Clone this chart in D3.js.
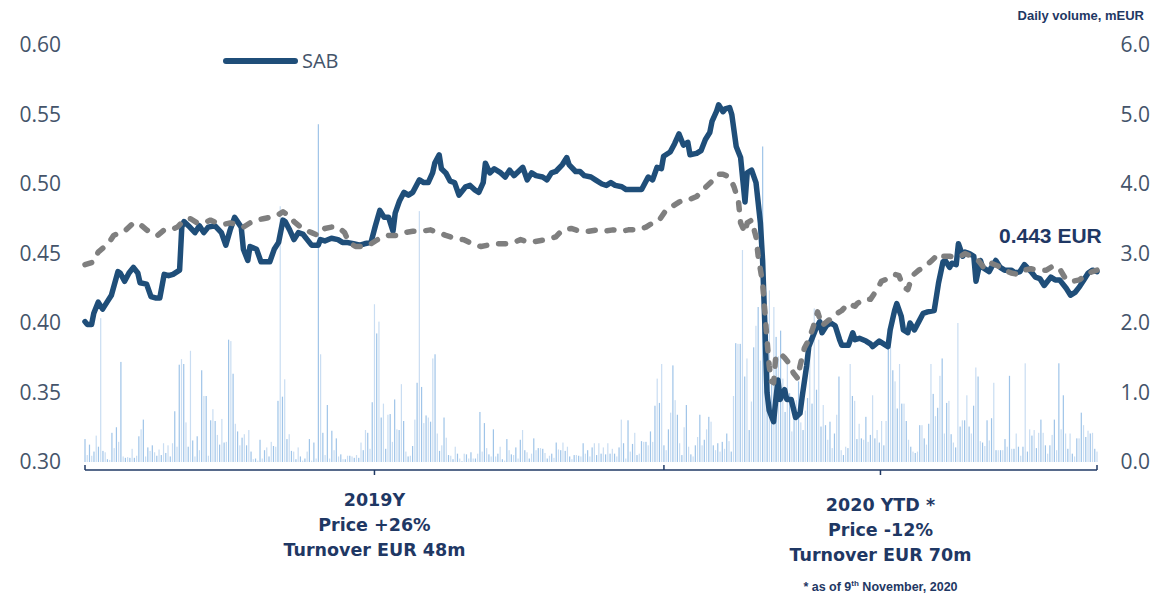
<!DOCTYPE html>
<html>
<head>
<meta charset="utf-8">
<script src="https://cdn.jsdelivr.net/npm/d3@7"></script>
<style>
  body { margin: 0; background: #fff; }
  svg { display: block; }
</style>
</head>
<body>
<div id="chart"></div>
<script>
// Volumen diario (mEUR), una barra por sesion
const vol2019 = [
  0.33,0.10,0.25,0.09,0.15,0.38,0.22,2.07,0.16,0.14,0.04,0.03,0.42,0.20,0.50,0.29,1.44,0.08,0.06,0.07,
  0.06,0.19,0.06,0.09,0.37,0.47,0.61,0.08,0.21,0.16,0.24,0.14,0.09,0.18,0.10,0.27,0.13,0.24,0.08,0.27,
  0.73,0.22,1.40,1.48,1.41,0.57,0.22,1.60,0.31,0.08,0.37,0.17,1.32,0.95,0.95,0.09,0.60,0.76,0.59,0.39,
  0.25,0.62,0.28,0.29,1.76,1.74,1.27,0.55,0.44,0.24,0.35,0.40,0.24,0.46,0.15,0.04,0.05,0.02,0.32,0.05,
  0.17,0.21,0.08,0.29,0.23,0.22,0.88,3.68,0.94,1.19,0.33,0.40,0.16,0.15,0.04,0.21,0.08,0.02,0.05,0.15,
  0.33,0.02,0.28,0.05,4.86,1.55,0.42,0.10,0.82,0.05,0.45,0.17,0.34,0.08,
  0.11,0.04,0.04,0.09,0.09,0.08,0.06,0.10,0.06,0.28,0.17,0.46,0.42,0.19,0.86,2.27,1.85,2.02,0.64,0.84,
  0.19,0.68,0.69,0.29,0.90,0.47,0.46,1.12,0.59,0.15,0.08,0.09,0.23,0.61,1.14,3.61,1.08,0.56,0.67,0.64,
  0.58,1.49,1.55,0.41,0.16,0.24,0.64,0.35,0.10,0.09,0.04,0.22,0.12,0.05,0.01,0.12,0.11,0.05,0.14,0.05,
  0.05,0.12,0.72,0.15,0.56,0.20,0.11,0.08,0.47,0.08,0.12,0.22,0.04,0.02,0.33,0.17,0.11,0.10,0.21,0.05,
  0.32,0.46,0.17,0.14,0.05,0.12,0.34,0.17,0.20,0.20,0.19,0.13,0.05,0.09,0.12,0.06,0.28,0.18,0.17,0.28,
  0.16,0.22,0.08,0.04,0.10,0.10,0.09,0.08,0.27,0.12,0.17,0.08,0.21,0.27,
  0.10,0.27,0.12,0.21,0.11,0.27,0.12,0.19,0.12,0.08,0.21,0.61,0.27,0.05,0.60,0.15,0.26,0.42,0.10,0.12,
  0.30,0.29,0.29,0.24,0.44,0.29,0.81,1.20,0.85,1.41
];
const vol2020 = [
  0.24,0.17,0.47,0.71,1.39,0.89,0.68,0.27,0.10,0.50,0.82,0.22,0.11,0.08,0.24,0.36,0.68,0.24,0.32,0.47,
  0.65,0.58,0.24,0.17,0.27,0.15,0.29,0.19,0.41,0.30,0.15,0.95,1.71,1.70,1.70,3.05,1.23,1.49,0.46,0.87,
  1.65,1.96,2.23,1.46,4.54,1.61,2.00,2.47,1.13,2.23,1.80,1.52,1.89,1.20,0.72,1.42,0.99,0.44,0.84,0.89,
  1.16,0.57,0.46,0.74,0.92,1.64,0.84,2.21,1.04,1.76,0.51,0.82,0.53,0.32,0.58,0.20,0.41,0.68,1.23,0.17,
  0.10,0.22,0.20,1.41,
  0.95,0.88,0.33,0.55,0.34,0.32,0.65,0.29,0.39,0.96,0.34,0.46,0.28,0.59,0.24,0.59,1.92,1.65,1.32,1.16,
  0.77,1.41,0.84,0.84,0.59,0.32,0.22,0.15,0.13,0.15,0.53,0.53,0.34,0.25,0.55,1.41,0.98,0.66,0.78,1.24,
  1.49,0.41,0.85,0.88,0.40,0.28,0.21,2.00,0.51,0.60,0.60,0.96,0.51,0.41,0.81,1.36,1.23,0.30,0.28,0.23,
  0.60,0.31,0.63,1.14,0.17,0.17,0.17,0.17,0.33,0.22,1.24,0.19,0.19,0.41,0.22,0.09,0.22,1.42,0.15,0.47,
  0.38,0.46,0.20,0.42,0.61,0.42,0.24,0.12,0.24,0.39,0.61,0.17,1.42,0.47,0.96,0.41,0.19,0.41,0.12,0.08,
  0.34,0.34,0.71,0.53,0.36,0.45,0.41,0.42,0.19,0.15
];

// Cotizacion SAB [sesion, EUR]
const sabPrice = [
  [0,.401],[1,.399],[3,.399],[4,.407],[6,.415],[8,.410],[10,.415],[12,.420],[15,.437],[16,.436],[18,.430],[20,.436],
  [22,.440],[24,.436],[25,.429],[28,.428],[30,.419],[32,.418],[34,.418],[36,.435],[38,.434],[40,.435],[43,.438],[44,.469],
  [45,.473],[47,.470],[50,.465],[52,.470],[54,.465],[56,.469],[59,.470],[62,.465],[64,.456],[66,.467],[68,.476],[71,.469],
  [72,.453],[74,.445],[75,.455],[78,.453],[80,.444],[82,.444],[84,.444],[86,.453],[88,.458],[90,.474],[91,.473],[93,.467],
  [95,.460],[97,.465],[99,.464],[101,.460],[103,.456],[106,.456],[107,.460],[109,.459],[112,.461],[115,.460],[117,.458],
  [119,.458],[122,.457],[125,.456],[127,.457],[130,.458],[132,.470],[134,.481],[136,.476],[138,.476],[140,.466],[141,.479],
  [143,.488],[145,.494],[147,.492],[149,.494],[152,.503],[154,.501],[156,.501],[158,.508],[159,.515],[161,.521],[162,.511],
  [164,.508],[166,.502],[168,.501],[170,.492],[173,.498],[175,.499],[177,.496],[179,.494],[181,.501],[182,.515],[184,.508],
  [186,.511],[189,.508],[191,.505],[193,.510],[195,.506],[197,.509],[199,.512],[201,.503],[203,.508],[205,.506],[208,.505],
  [210,.503],[212,.508],[214,.509],[217,.514],[219,.519],[220,.514],[223,.509],[225,.509],[227,.506],[230,.505],[232,.503],
  [235,.500],[237,.499],[239,.501],[241,.499],[244,.498],[246,.496],[248,.496],[250,.496],[253,.496],[256,.505],[258,.503],
  [260,.512],[262,.511],[263,.520],[266,.523],[268,.529],[270,.536],[272,.528],[274,.530],[275,.521],[278,.522],[280,.524],
  [282,.532],[284,.537],[285,.545],[287,.552],[288,.557],[290,.552],[291,.554],[293,.555],[294,.550],[296,.527],[298,.519],
  [300,.487],[301,.508],[303,.510],[305,.501],[307,.472],[308,.445],[309,.400],[310,.350],[311,.337],[313,.329],[314,.345],
  [315,.359],[316,.345],[318,.352],[319,.345],[321,.345],[323,.332],[325,.335],[326,.347],[328,.369],[329,.383],[332,.395],
  [334,.401],[335,.393],[337,.398],[339,.400],[341,.398],[343,.388],[344,.384],[347,.384],[349,.393],[350,.388],[352,.389],
  [355,.387],[357,.385],[358,.383],[361,.387],[363,.385],[365,.383],[366,.395],[368,.409],[369,.414],[371,.405],[372,.395],
  [374,.393],[375,.400],[377,.395],[379,.401],[381,.407],[383,.408],[386,.409],[387,.419],[388,.429],[390,.444],[391,.445],
  [393,.440],[394,.443],[396,.442],[397,.457],[399,.448],[400,.451],[402,.450],[404,.448],[405,.430],[407,.445],[408,.440],
  [411,.437],[412,.440],[414,.445],[416,.440],[418,.438],[421,.438],[423,.436],[425,.437],[427,.442],[430,.437],[432,.433],
  [434,.432],[436,.427],[439,.433],[441,.431],[443,.431],[446,.425],[448,.420],[450,.422],[452,.426],[454,.431],[456,.436],
  [458,.438],[460,.437]
];

// Indice de referencia (linea gris discontinua) [sesion, nivel]
const indexPrice = [
  [0,.442],[4,.444],[6,.451],[9,.455],[11,.458],[13,.463],[16,.465],[18,.466],[22,.472],[25,.471],[28,.467],[31,.464],
  [33,.463],[36,.467],[39,.467],[42,.469],[45,.474],[48,.475],[51,.472],[54,.472],[57,.474],[60,.472],[63,.471],[66,.472],
  [69,.471],[72,.469],[75,.472],[78,.474],[81,.475],[84,.476],[87,.477],[90,.480],[93,.477],[95,.473],[98,.469],[100,.467],
  [103,.465],[106,.463],[109,.468],[112,.469],[115,.469],[118,.465],[120,.458],[123,.455],[127,.455],[130,.457],[134,.461],
  [138,.463],[142,.463],[145,.465],[149,.466],[153,.466],[157,.467],[161,.465],[164,.463],[168,.461],[172,.460],[176,.457],
  [180,.455],[183,.456],[187,.457],[191,.457],[195,.458],[198,.460],[202,.458],[206,.459],[210,.460],[214,.462],[217,.467],
  [221,.468],[225,.466],[229,.466],[233,.467],[236,.466],[240,.467],[244,.466],[247,.467],[251,.467],[255,.469],[258,.472],
  [261,.474],[264,.481],[267,.484],[270,.487],[273,.489],[275,.489],[278,.491],[281,.496],[285,.502],[288,.507],[290,.507],
  [293,.505],[295,.498],[297,.488],[298,.472],[300,.465],[301,.472],[303,.474],[305,.462],[306,.448],[308,.429],[309,.409],
  [310,.388],[311,.369],[312,.358],[313,.357],[314,.376],[316,.378],[318,.375],[320,.371],[322,.364],[324,.360],[325,.369],
  [327,.382],[329,.388],[331,.397],[333,.408],[335,.398],[338,.402],[340,.403],[342,.407],[344,.409],[347,.414],[350,.412],
  [351,.414],[354,.417],[357,.417],[360,.424],[362,.430],[365,.432],[368,.435],[370,.434],[372,.426],[374,.424],[376,.434],
  [379,.438],[382,.441],[385,.445],[388,.450],[390,.448],[393,.448],[396,.447],[398,.448],[400,.450],[403,.448],[406,.445],
  [409,.439],[412,.443],[415,.441],[418,.438],[421,.436],[424,.435],[427,.438],[430,.439],[433,.438],[437,.438],[440,.441],
  [443,.439],[446,.431],[449,.430],[452,.431],[455,.435],[458,.437],[460,.438]
];

const priceTicks = [0.30, 0.35, 0.40, 0.45, 0.50, 0.55, 0.60];
const volumeTicks = [0, 1, 2, 3, 4, 5, 6];
const periodLabels = [
  ["2019Y", "Price +26%", "Turnover EUR 48m"],
  ["2020 YTD *", "Price -12%", "Turnover EUR 70m"]
];
const lastPriceLabel = "0.443 EUR";
const legendLabel = "SAB";
const volumeTitle = "Daily volume, mEUR";

const width = 1153, height = 595;
const navy = "#1f3864", slate = "#44546a";

const svg = d3.select("#chart").append("svg")
    .attr("width", width)
    .attr("height", height);

const volume = vol2019.concat(vol2020);
const nBars = volume.length;
const lastSession = d3.max(sabPrice, d => d[0]);

// escalas
const xBar = d3.scaleLinear().domain([0, nBars - 1]).range([85, 1097]);
const xDay = d3.scaleLinear().domain([0, lastSession]).range([85, 1097]);
const yPrice = d3.scaleLinear().domain([0.30, 0.60]).range([462, 45]);
const yVol = d3.scaleLinear().domain([0, 6]).range([462, 45]);

// barras de volumen
svg.append("g").selectAll("rect")
  .data(volume)
  .join("rect")
    .attr("x", (d, i) => xBar(i) - 0.6)
    .attr("y", d => yVol(d))
    .attr("width", 1.2)
    .attr("height", d => yVol(0) - yVol(d))
    .attr("fill", (d, i) => i % 2 ? "#c9ddf2" : "#9fc4e8");

// lineas de precio
const line = d3.line()
    .x(d => xDay(d[0]))
    .y(d => yPrice(d[1]));

svg.append("path")
    .datum(sabPrice)
    .attr("d", line)
    .attr("fill", "none")
    .attr("stroke", "#1f4e79")
    .attr("stroke-width", 5.5)
    .attr("stroke-linejoin", "round")
    .attr("stroke-linecap", "round");

svg.append("path")
    .datum(indexPrice)
    .attr("d", line)
    .attr("fill", "none")
    .attr("stroke", "#7f7f7f")
    .attr("stroke-width", 5.5)
    .attr("stroke-dasharray", "7,12")
    .attr("stroke-linejoin", "round")
    .attr("stroke-linecap", "round");

// ejes verticales
const leftAxis = svg.append("g")
    .attr("transform", "translate(61,0)")
    .call(d3.axisLeft(yPrice).tickValues(priceTicks).tickFormat(d3.format(".2f")).tickSize(0).tickPadding(0));

const rightAxis = svg.append("g")
    .attr("transform", "translate(1150,0)")
    .call(d3.axisLeft(yVol).tickValues(volumeTicks).tickFormat(d3.format(".1f")).tickSize(0).tickPadding(0));

[leftAxis, rightAxis].forEach(g => {
  g.select(".domain").remove();
  g.selectAll("text")
    .attr("fill", slate)
    .style("font-family", "'Open Sans', sans-serif")
    .style("font-size", "21px");
});

// eje inferior con separacion de periodos
const boundary = xBar(vol2019.length);
const xStart = xBar(0), xEnd = xBar(nBars - 1);
const axisY = 470;
const bottom = svg.append("g").attr("stroke", navy).attr("stroke-width", 1.5);
bottom.append("line").attr("x1", xStart).attr("x2", xEnd).attr("y1", axisY).attr("y2", axisY);
[xStart, boundary, xEnd].forEach(x => {
  bottom.append("line").attr("x1", x).attr("x2", x).attr("y1", axisY - 5).attr("y2", axisY);
});
const centers = [(xStart + boundary) / 2, (boundary + xEnd) / 2];
centers.forEach(x => {
  bottom.append("line").attr("x1", x).attr("x2", x).attr("y1", axisY).attr("y2", axisY + 5);
});

// textos de periodo
const blockTop = [506, 511];
periodLabels.forEach((lines, k) => {
  svg.append("text")
    .attr("x", centers[k])
    .attr("y", blockTop[k])
    .attr("text-anchor", "middle")
    .attr("fill", navy)
    .style("font-family", "'DejaVu Sans', sans-serif")
    .style("font-weight", "bold")
    .style("font-size", "17.5px")
    .selectAll("tspan")
    .data(lines)
    .join("tspan")
      .attr("x", centers[k])
      .attr("dy", (d, i) => i === 0 ? 0 : 25)
      .text(d => d);
});

// nota al pie
const note = svg.append("text")
    .attr("x", centers[1])
    .attr("y", 591)
    .attr("text-anchor", "middle")
    .attr("fill", navy)
    .style("font-family", "'Liberation Sans', Arial, sans-serif")
    .style("font-weight", "bold")
    .style("font-size", "12.5px");
note.append("tspan").text("* as of 9");
note.append("tspan").attr("dy", -5).style("font-size", "8px").text("th");
note.append("tspan").attr("dy", 5).text(" November, 2020");

// ultimo precio
svg.append("text")
    .attr("x", 999)
    .attr("y", 243)
    .attr("fill", navy)
    .style("font-family", "'Liberation Sans', Arial, sans-serif")
    .style("font-weight", "bold")
    .style("font-size", "21px")
    .text(lastPriceLabel);

// titulo eje de volumen
svg.append("text")
    .attr("x", 1144)
    .attr("y", 20)
    .attr("text-anchor", "end")
    .attr("fill", navy)
    .style("font-family", "'Liberation Sans', Arial, sans-serif")
    .style("font-weight", "bold")
    .style("font-size", "13px")
    .text(volumeTitle);

// leyenda
svg.append("line")
    .attr("x1", 226).attr("x2", 295)
    .attr("y1", 61).attr("y2", 61)
    .attr("stroke", "#1f4e79")
    .attr("stroke-width", 6)
    .attr("stroke-linecap", "round");
svg.append("text")
    .attr("x", 302)
    .attr("y", 61)
    .attr("dy", "0.35em")
    .attr("fill", slate)
    .style("font-family", "'Open Sans', sans-serif")
    .style("font-size", "20px")
    .text(legendLabel);
</script>
</body>
</html>
